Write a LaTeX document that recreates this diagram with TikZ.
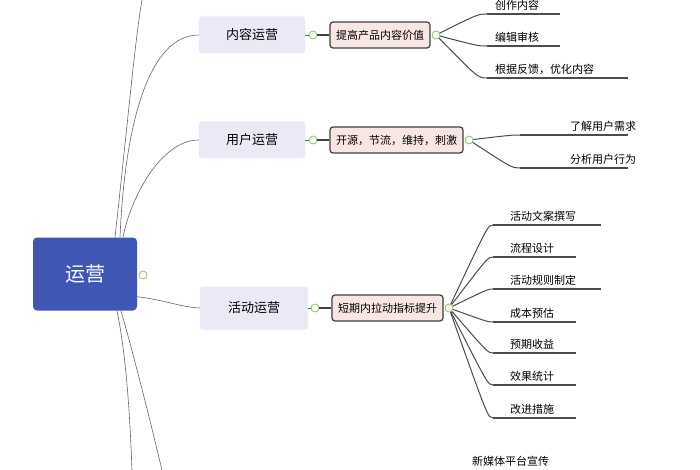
\documentclass[tikz,border=0pt]{standalone}
\usepackage{fontspec}
\setmainfont{Noto Sans CJK SC}
\usepackage{tikz}
\usetikzlibrary{positioning}
\definecolor{rootblue}{HTML}{4056B4}
\definecolor{branchbg}{HTML}{E9EAF5}
\definecolor{notebg}{HTML}{F8E6E4}
\definecolor{togglegreen}{HTML}{8DBF6A}

\begin{document}
\begin{tikzpicture}[
        x=1pt, y=-1pt,
        link/.style = {draw=gray!80!black, line width=0.6pt},
        rootbox/.style = {
                rectangle, rounded corners=4pt, fill=rootblue,
                minimum width=104pt, minimum height=73pt,
                text=white, font=\fontsize{20}{20}\selectfont,
            },
        branch/.style = {
                rectangle, rounded corners=3pt, fill=branchbg,
                minimum width=106pt, minimum height=37pt,
                font=\fontsize{13}{13}\selectfont,
            },
        note/.style = {
                rectangle, rounded corners=3pt, fill=notebg,
                draw=black!75, line width=1.2pt,
                minimum height=26pt, inner xsep=6pt,
                font=\fontsize{11}{11}\selectfont,
            },
        toggle/.style = {
                circle, draw=togglegreen, fill=white, line width=0.8pt,
                minimum size=8pt, inner sep=0pt,
                label={[togglegreen,font=\tiny]center:-},
            },
        leaf/.style = {anchor=south west, inner xsep=0pt, inner ysep=3pt,
                font=\fontsize{11}{11}\selectfont},
    ]
    \useasboundingbox (0,0) rectangle (700,470);
    \fill[white] (0,0) rectangle (700,470);

    % root and main branches
    \node[rootbox] (root) at (85,274) {运营};
    \node[toggle] (rt) at (143,275) {};
    \node[branch] (content) at (252,35) {内容运营};
    \node[branch] (user) at (252,140) {用户运营};
    \node[branch, minimum width=108pt, minimum height=43pt] (event) at (254,308) {活动运营};

    \draw[link] (root.north) ++(35,0) .. controls (125,120) and (150,35) .. (content.west);
    \draw[link] (root.north) ++(38,0) .. controls (130,200) and (160,140) .. (user.west);
    \draw[link] (root.south east) ++(0,-14) .. controls (165,300) and (180,307) .. (event.west);
    \draw[link] (root.north) ++(30,0) .. controls (128,120) and (135,40) .. (142,0);
    \draw[link] (root.south) ++(32,0) .. controls (127,360) and (130,420) .. (132,470);
    \draw[link] (root.south) ++(36,0) .. controls (135,360) and (150,420) .. (162,470);

    % notes
    \node[toggle] (ct) at (313,35) {};
    \node[toggle] (ut) at (313,140) {};
    \node[toggle] (et) at (315,308) {};
    \node[note, right=12pt of ct] (cnote) {提高产品内容价值};
    \node[note, right=12pt of ut] (unote) {开源，节流，维持，刺激};
    \node[note, right=12pt of et] (enote) {短期内拉动指标提升};
    \node[toggle, right=1pt of cnote] (cnt) {};
    \node[toggle, right=1pt of unote] (unt) {};
    \node[toggle, right=1pt of enote] (ent) {};
    \foreach \a/\b in {content/ct, user/ut, event/et}
        \draw[link] (\a.east) -- (\b);
    \foreach \a/\b in {ct/cnote, ut/unote, et/enote}
        \draw[link, line width=1.2pt, black!75] (\a) -- (\b);

    % leaves
    \foreach \t/\y/\w [count=\i] in {
            创作内容/14/73,
            编辑审核/46/73,
            根据反馈，优化内容/78/141}
        {
            \node[leaf] (c\i) at (495,\y) {\t};
            \draw[link, line width=1.2pt, black!70] (487,\y) -- ++(\w,0);
            \draw[link, line width=1pt, black!70] (cnt) .. controls (478,\y) .. (487,\y);
        }
    \foreach \t/\y [count=\i] in {
            了解用户需求/135,
            分析用户行为/168}
        {
            \node[leaf] (u\i) at (570,\y) {\t};
            \draw[link, line width=1.2pt, black!70] (520,\y) -- (628,\y);
            \draw[link, line width=1pt, black!70] (unt) .. controls (512,\y) .. (520,\y);
        }
    \foreach \t/\y/\w [count=\i] in {
            活动文案撰写/225/108,
            流程设计/257/83,
            活动规则制定/289/108,
            成本预估/322/83,
            预期收益/353/83,
            效果统计/385/83,
            改进措施/418/83}
        {
            \node[leaf] (e\i) at (510,\y) {\t};
            \draw[link, line width=1.2pt, black!70] (493,\y) -- ++(\w,0);
            \draw[link, line width=1pt, black!70] (ent) .. controls (488,\y) .. (493,\y);
        }
    \node[leaf] (m1) at (472,470) {新媒体平台宣传};
\end{tikzpicture}
\end{document}
